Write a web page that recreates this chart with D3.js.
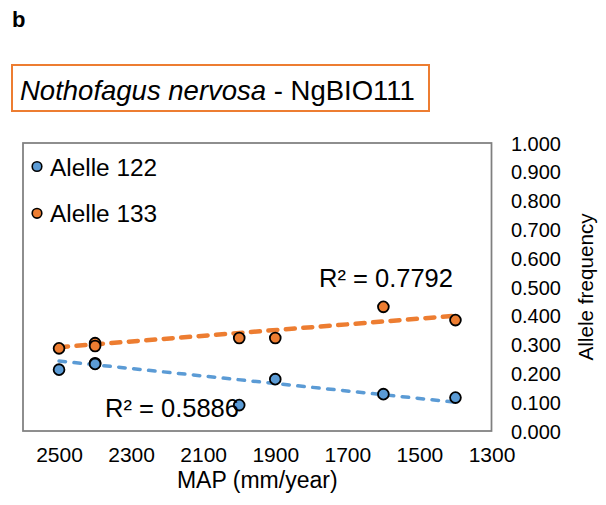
<!DOCTYPE html>
<html>
<head>
<meta charset="utf-8">
<script src="https://cdn.jsdelivr.net/npm/d3@7"></script>
<style>
  html, body { margin: 0; padding: 0; background: #fff; }
  svg { display: block; font-family: "Liberation Sans", Arial, sans-serif; }
</style>
</head>
<body>
<svg id="chart" width="606" height="505"></svg>
<script>
// ---- data ----
const mapValues = [2500, 2400, 2400, 2000, 1900, 1600, 1400];
const allele122 = [0.213, 0.235, 0.233, 0.090, 0.180, 0.128, 0.116];
const allele133 = [0.287, 0.305, 0.295, 0.323, 0.323, 0.431, 0.385];
const trendMap = [2500, 1400];
const trend122 = [0.243, 0.100];
const trend133 = [0.291, 0.400];
const r2Labels = ["R² = 0.5886", "R² = 0.7792"];
const seriesNames = ["Alelle 122", "Alelle 133"];
const xTicks = [2500, 2300, 2100, 1900, 1700, 1500, 1300];
const yTicks = [0, 0.1, 0.2, 0.3, 0.4, 0.5, 0.6, 0.7, 0.8, 0.9, 1.0];
const panelLabel = "b";
const titleItalic = "Nothofagus nervosa";
const titleRest = " - NgBIO111";
const xTitle = "MAP (mm/year)";
const yTitle = "Allele frequency";

const colors = ["#5B9BD5", "#ED7D31"];
const svg = d3.select("#chart");

const plot = { left: 23, right: 491.5, top: 143, bottom: 431 };
const x = d3.scaleLinear().domain([2600, 1300]).range([plot.left, plot.right]);
const y = d3.scaleLinear().domain([0, 1]).range([plot.bottom, plot.top]);

// panel label
svg.append("text").attr("x", 12).attr("y", 27)
  .attr("font-size", 22).attr("font-weight", "bold").attr("fill", "#000")
  .text(panelLabel);

// title box
svg.append("rect").attr("x", 12).attr("y", 65).attr("width", 417).attr("height", 46)
  .attr("fill", "#fff").attr("stroke", "#ED7D31").attr("stroke-width", 2);
const title = svg.append("text").attr("x", 20).attr("y", 100)
  .attr("font-size", 27.5).attr("fill", "#000");
title.append("tspan").attr("font-style", "italic").text(titleItalic);
title.append("tspan").text(titleRest);

// plot frame
svg.append("rect").attr("x", plot.left).attr("y", plot.top)
  .attr("width", plot.right - plot.left).attr("height", plot.bottom - plot.top)
  .attr("fill", "none").attr("stroke", "#7F7F7F").attr("stroke-width", 1.75);

// x axis
const xAxis = svg.append("g").attr("transform", `translate(0,${plot.bottom})`)
  .call(d3.axisBottom(x).tickValues(xTicks).tickSize(0).tickPadding(0).tickFormat(d3.format("d")));
xAxis.select(".domain").remove();
xAxis.selectAll("text").attr("font-size", 21).attr("fill", "#000")
  .attr("font-family", "Liberation Sans, Arial, sans-serif")
  .attr("dy", null).attr("y", 31);

// y axis (right)
const yAxis = svg.append("g").attr("transform", `translate(561,0)`)
  .call(d3.axisLeft(y).tickValues(yTicks).tickSize(0).tickPadding(0).tickFormat(d3.format(".3f")));
yAxis.select(".domain").remove();
yAxis.selectAll("text").attr("font-size", 20).attr("fill", "#000")
  .attr("font-family", "Liberation Sans, Arial, sans-serif")
  .attr("x", 0).attr("dy", "0.35em");

// axis titles
svg.append("text").attr("x", (plot.left + plot.right) / 2).attr("y", 488)
  .attr("text-anchor", "middle").attr("font-size", 23).attr("fill", "#000").text(xTitle);
svg.append("text").attr("transform", `translate(593,${(plot.top + plot.bottom) / 2}) rotate(-90)`)
  .attr("text-anchor", "middle").attr("font-size", 20.7).attr("fill", "#000").text(yTitle);

// trend lines
const trends = [trend122, trend133];
const line = d3.line().x(d => x(d[0])).y(d => y(d[1]));
const dashStyles = [{ w: 3.5, dash: "6.5,8.5" }, { w: 4.5, dash: "9,8.5" }];
trends.forEach((t, i) => {
  svg.append("path").datum(trendMap.map((m, j) => [m, t[j]]))
    .attr("d", line).attr("fill", "none")
    .attr("stroke", colors[i]).attr("stroke-width", dashStyles[i].w)
    .attr("stroke-dasharray", dashStyles[i].dash).attr("stroke-linecap", "round");
});

// points
[allele122, allele133].forEach((vals, i) => {
  svg.append("g").selectAll("circle").data(vals).join("circle")
    .attr("cx", (d, j) => x(mapValues[j])).attr("cy", d => y(d)).attr("r", 5.4)
    .attr("fill", colors[i]).attr("stroke", "#000").attr("stroke-width", 1.8);
});

// R² labels
svg.append("text").attr("x", 105).attr("y", 417).attr("font-size", 25.5).attr("fill", "#000").text(r2Labels[0]);
svg.append("text").attr("x", 319).attr("y", 287).attr("font-size", 25.5).attr("fill", "#000").text(r2Labels[1]);

// legend
seriesNames.forEach((name, i) => {
  const cy = 166.5 + i * 46.8;
  svg.append("circle").attr("cx", 37).attr("cy", cy).attr("r", 4.8)
    .attr("fill", colors[i]).attr("stroke", "#000").attr("stroke-width", 1.6);
  svg.append("text").attr("x", 50).attr("y", cy + 9).attr("font-size", 24.4).attr("fill", "#000").text(name);
});
</script>
</body>
</html>
